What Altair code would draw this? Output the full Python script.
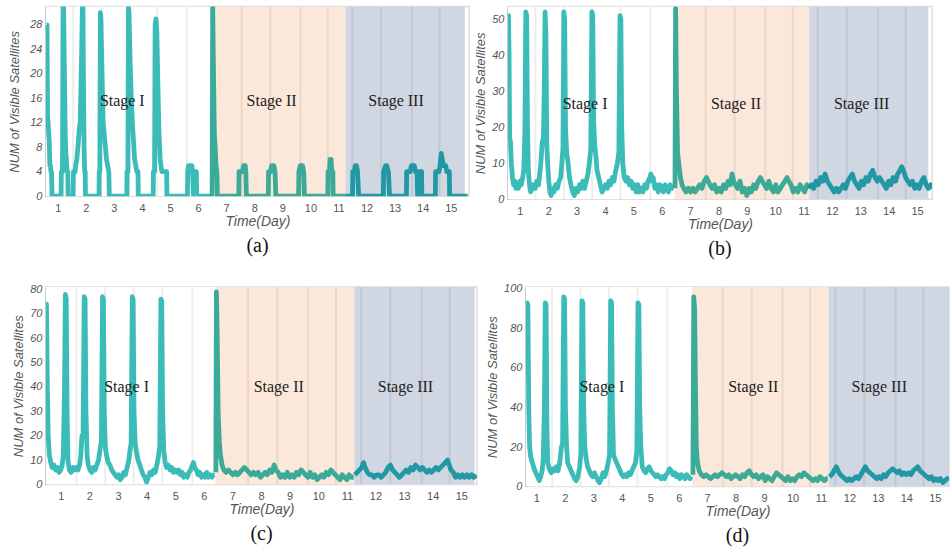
import altair as alt
import pandas as pd

# ---------------- data (day, number of visible satellites) ----------------
A_S1 = [(0.60, 28), (0.62, 28), (0.64, 13), (0.66, 12), (0.68, 10), (0.70, 9), (0.72, 5), (0.74, 5), (0.76, 4), (0.78, 4), (0.80, 0),
        (1.12, 0), (1.13, 4), (1.17, 4), (1.19, 31), (1.21, 31), (1.24, 20), (1.27, 10), (1.29, 7), (1.31, 6), (1.33, 4), (1.36, 4), (1.37, 0),
        (1.55, 0), (1.56, 4), (1.62, 4), (1.64, 5), (1.68, 6), (1.72, 8), (1.77, 11), (1.80, 12), (1.84, 20), (1.88, 31), (1.90, 31), (1.92, 18),
        (1.94, 8), (1.96, 4), (1.98, 4), (1.99, 0), (2.47, 0), (2.48, 4), (2.50, 4), (2.52, 30), (2.54, 29), (2.58, 20), (2.62, 12), (2.66, 10),
        (2.70, 8), (2.74, 6), (2.78, 5), (2.82, 4), (2.84, 0), (3.46, 0), (3.47, 4), (3.50, 4), (3.52, 31), (3.54, 30), (3.58, 22), (3.62, 16),
        (3.66, 12), (3.70, 9), (3.74, 6), (3.78, 5), (3.82, 4), (3.86, 4), (3.87, 0), (4.40, 0), (4.41, 4), (4.45, 4), (4.47, 28), (4.50, 29),
        (4.53, 27), (4.57, 18), (4.61, 10), (4.65, 6), (4.68, 5), (4.71, 4), (4.88, 4), (4.89, 0), (5.62, 0), (5.63, 4), (5.66, 5), (5.70, 4),
        (5.73, 5), (5.78, 5), (5.80, 4), (5.84, 0), (5.88, 4), (5.94, 4), (5.95, 0), (6.48, 0)]
A_S2 = [(6.50, 0), (6.52, 31), (6.55, 20), (6.58, 10), (6.61, 8), (6.64, 5), (6.67, 4), (6.69, 0), (7.45, 0), (7.46, 4), (7.58, 4),
        (7.62, 5), (7.68, 5), (7.70, 4), (7.72, 0), (8.50, 0), (8.51, 4), (8.58, 4), (8.62, 5), (8.70, 5), (8.74, 4), (8.77, 0), (9.58, 0),
        (9.59, 4), (9.64, 5), (9.72, 5), (9.76, 4), (9.79, 0), (10.62, 0), (10.63, 4), (10.68, 4), (10.70, 6), (10.74, 6), (10.76, 4),
        (10.80, 4), (10.81, 0), (11.25, 0)]
A_S3 = [(11.25, 0), (11.50, 0), (11.51, 4), (11.56, 4), (11.60, 5), (11.64, 5), (11.68, 4), (11.72, 0), (12.60, 0), (12.61, 4), (12.68, 5),
        (12.72, 5), (12.78, 4), (12.82, 0), (13.42, 0), (13.43, 4), (13.55, 4), (13.60, 5), (13.70, 5), (13.74, 4), (13.80, 4), (13.82, 0),
        (13.88, 0), (13.89, 4), (13.96, 4), (13.97, 0), (14.45, 0), (14.46, 4), (14.58, 4), (14.62, 5), (14.66, 7), (14.70, 6), (14.74, 5),
        (14.82, 5), (14.86, 4), (14.95, 4), (14.96, 0), (15.60, 0)]

B_S1 = [(0.58, 50), (0.60, 51), (0.62, 40), (0.64, 17), (0.67, 16), (0.70, 10), (0.74, 6), (0.78, 4), (0.82, 5), (0.86, 3), (0.90, 4),
        (0.95, 3), (1.00, 5), (1.05, 4), (1.10, 6), (1.14, 8), (1.18, 20), (1.21, 52), (1.24, 51), (1.27, 20), (1.30, 8), (1.34, 4), (1.38, 2),
        (1.42, 3), (1.48, 4), (1.54, 3), (1.60, 5), (1.66, 4), (1.70, 7), (1.74, 10), (1.79, 16), (1.83, 17), (1.86, 30), (1.89, 52), (1.92, 45),
        (1.95, 15), (1.98, 10), (2.02, 5), (2.06, 2), (2.10, 1), (2.15, 3), (2.20, 2), (2.26, 4), (2.32, 3), (2.38, 5), (2.44, 6), (2.48, 10),
        (2.52, 14), (2.55, 52), (2.58, 50), (2.61, 20), (2.65, 13), (2.70, 10), (2.75, 6), (2.80, 4), (2.86, 2), (2.92, 1), (2.98, 3), (3.04, 2),
        (3.10, 4), (3.16, 3), (3.22, 5), (3.28, 3), (3.34, 5), (3.40, 7), (3.45, 10), (3.50, 14), (3.54, 52), (3.57, 51), (3.60, 22), (3.64, 15),
        (3.68, 12), (3.72, 8), (3.78, 6), (3.84, 4), (3.90, 2), (3.96, 3), (4.02, 4), (4.08, 3), (4.14, 5), (4.20, 4), (4.26, 6), (4.32, 5),
        (4.38, 8), (4.44, 10), (4.49, 13), (4.53, 51), (4.56, 50), (4.59, 20), (4.63, 10), (4.68, 6), (4.74, 5), (4.80, 6), (4.86, 4), (4.92, 5),
        (4.98, 3), (5.04, 4), (5.10, 2), (5.16, 4), (5.22, 2), (5.28, 3), (5.34, 2), (5.40, 4), (5.46, 3), (5.52, 5), (5.58, 6), (5.62, 7),
        (5.66, 5), (5.70, 6), (5.76, 3), (5.82, 4), (5.88, 2), (5.94, 4), (6.00, 3), (6.06, 2), (6.12, 4), (6.18, 3), (6.24, 2), (6.30, 4),
        (6.36, 3), (6.42, 3)]
B_S2 = [(6.47, 3), (6.49, 53), (6.52, 30), (6.56, 13), (6.60, 10), (6.66, 6), (6.72, 4), (6.78, 3), (6.86, 2), (6.94, 3), (7.02, 2),
        (7.10, 3), (7.18, 2), (7.26, 3), (7.34, 4), (7.42, 3), (7.50, 5), (7.58, 6), (7.64, 5), (7.70, 4), (7.78, 3), (7.86, 4), (7.94, 2),
        (8.02, 3), (8.10, 2), (8.18, 4), (8.26, 3), (8.34, 5), (8.42, 4), (8.48, 7), (8.54, 5), (8.60, 4), (8.68, 3), (8.76, 5), (8.84, 2),
        (8.92, 3), (9.00, 1), (9.08, 3), (9.16, 2), (9.24, 4), (9.32, 3), (9.40, 5), (9.48, 6), (9.54, 5), (9.62, 4), (9.70, 3), (9.78, 5),
        (9.86, 3), (9.94, 2), (10.02, 4), (10.10, 2), (10.18, 3), (10.26, 4), (10.34, 5), (10.42, 6), (10.48, 5), (10.56, 4), (10.64, 2),
        (10.72, 3), (10.80, 2), (10.88, 4), (10.96, 3), (11.04, 2), (11.12, 4), (11.20, 3)]
B_S3 = [(11.20, 3), (11.28, 4), (11.36, 3), (11.44, 5), (11.52, 4), (11.60, 6), (11.68, 5), (11.76, 7), (11.84, 5), (11.92, 4), (12.00, 3),
        (12.08, 2), (12.16, 3), (12.24, 2), (12.32, 3), (12.40, 4), (12.48, 3), (12.56, 5), (12.64, 6), (12.72, 7), (12.80, 5), (12.88, 4),
        (12.96, 3), (13.04, 5), (13.12, 4), (13.20, 6), (13.28, 5), (13.36, 7), (13.44, 8), (13.52, 6), (13.60, 5), (13.68, 6), (13.76, 5),
        (13.84, 4), (13.92, 3), (14.00, 5), (14.08, 4), (14.16, 6), (14.24, 5), (14.32, 7), (14.40, 8), (14.46, 9), (14.52, 8), (14.60, 6),
        (14.68, 5), (14.76, 4), (14.84, 5), (14.92, 3), (15.00, 4), (15.08, 3), (15.16, 5), (15.24, 6), (15.32, 4), (15.40, 3), (15.48, 4),
        (15.55, 3)]

C_S1 = [(0.48, 74), (0.50, 74), (0.53, 40), (0.56, 20), (0.60, 12), (0.65, 9), (0.70, 7), (0.76, 8), (0.82, 6), (0.88, 7), (0.94, 5),
        (1.00, 6), (1.05, 8), (1.09, 12), (1.13, 40), (1.16, 78), (1.19, 76), (1.22, 30), (1.25, 10), (1.30, 6), (1.36, 5), (1.42, 7),
        (1.48, 6), (1.54, 7), (1.60, 6), (1.66, 8), (1.70, 12), (1.74, 20), (1.78, 20), (1.82, 77), (1.85, 76), (1.88, 30), (1.92, 12),
        (1.96, 8), (2.02, 6), (2.08, 5), (2.14, 7), (2.20, 6), (2.26, 8), (2.32, 10), (2.38, 15), (2.42, 18), (2.46, 77), (2.49, 76),
        (2.52, 30), (2.56, 15), (2.60, 12), (2.66, 9), (2.72, 8), (2.78, 6), (2.84, 5), (2.90, 4), (2.96, 3), (3.02, 4), (3.08, 2), (3.14, 3),
        (3.20, 5), (3.26, 4), (3.32, 7), (3.38, 10), (3.42, 14), (3.46, 17), (3.50, 77), (3.53, 76), (3.56, 30), (3.60, 17), (3.64, 14),
        (3.70, 10), (3.76, 8), (3.82, 6), (3.88, 4), (3.94, 3), (4.00, 1), (4.06, 3), (4.12, 5), (4.18, 4), (4.24, 6), (4.30, 5), (4.36, 8),
        (4.42, 12), (4.46, 16), (4.50, 76), (4.53, 75), (4.56, 30), (4.60, 14), (4.65, 9), (4.70, 7), (4.76, 8), (4.82, 6), (4.88, 7),
        (4.94, 5), (5.00, 6), (5.06, 5), (5.12, 6), (5.18, 4), (5.24, 5), (5.30, 3), (5.36, 4), (5.42, 3), (5.48, 5), (5.54, 6), (5.60, 8),
        (5.64, 9), (5.68, 7), (5.74, 6), (5.80, 4), (5.86, 5), (5.92, 3), (5.98, 4), (6.04, 3), (6.10, 5), (6.16, 3), (6.22, 4), (6.28, 3),
        (6.34, 4), (6.38, 4)]
C_S2 = [(6.42, 5), (6.44, 79), (6.47, 60), (6.50, 30), (6.54, 18), (6.58, 12), (6.64, 8), (6.70, 6), (6.78, 5), (6.86, 6), (6.94, 5),
        (7.02, 4), (7.10, 5), (7.18, 4), (7.26, 5), (7.34, 6), (7.42, 7), (7.50, 6), (7.58, 5), (7.66, 4), (7.74, 5), (7.82, 4), (7.90, 5),
        (7.98, 3), (8.06, 4), (8.14, 5), (8.22, 4), (8.30, 6), (8.38, 5), (8.46, 8), (8.52, 6), (8.60, 5), (8.68, 3), (8.76, 4), (8.84, 3),
        (8.92, 5), (9.00, 3), (9.08, 4), (9.16, 3), (9.24, 5), (9.32, 4), (9.40, 6), (9.48, 5), (9.56, 4), (9.64, 3), (9.72, 5), (9.80, 3),
        (9.88, 4), (9.96, 2), (10.04, 3), (10.12, 4), (10.20, 3), (10.28, 5), (10.36, 4), (10.44, 6), (10.52, 5), (10.60, 4), (10.68, 3),
        (10.76, 2), (10.84, 4), (10.92, 3), (11.00, 2), (11.08, 4), (11.16, 3), (11.24, 3)]
C_S3 = [(11.28, 4), (11.36, 5), (11.44, 6), (11.52, 7), (11.58, 9), (11.64, 7), (11.72, 5), (11.80, 4), (11.88, 4), (11.96, 3), (12.04, 4),
        (12.12, 4), (12.20, 3), (12.28, 4), (12.36, 5), (12.44, 7), (12.52, 8), (12.60, 6), (12.68, 5), (12.76, 4), (12.84, 3), (12.92, 4),
        (13.00, 5), (13.08, 6), (13.16, 5), (13.24, 7), (13.32, 6), (13.40, 8), (13.48, 7), (13.56, 6), (13.64, 7), (13.72, 6), (13.80, 5),
        (13.88, 6), (13.96, 5), (14.04, 6), (14.12, 7), (14.20, 6), (14.28, 7), (14.36, 8), (14.44, 9), (14.52, 10), (14.58, 8), (14.64, 6),
        (14.72, 5), (14.80, 3), (14.88, 4), (14.96, 3), (15.04, 4), (15.12, 3), (15.20, 4), (15.28, 3), (15.36, 4), (15.44, 3), (15.52, 4)]

D_S1 = [(0.65, 60), (0.67, 93), (0.70, 92), (0.73, 40), (0.76, 20), (0.80, 15), (0.86, 12), (0.92, 9), (0.98, 7), (1.04, 5), (1.10, 3),
        (1.15, 5), (1.20, 8), (1.24, 14), (1.28, 40), (1.31, 93), (1.34, 92), (1.37, 30), (1.40, 12), (1.45, 9), (1.52, 7), (1.58, 9),
        (1.64, 8), (1.70, 10), (1.76, 8), (1.82, 12), (1.88, 20), (1.92, 22), (1.96, 96), (1.99, 95), (2.02, 40), (2.06, 20), (2.10, 12),
        (2.16, 10), (2.22, 8), (2.28, 6), (2.34, 4), (2.40, 3), (2.46, 5), (2.52, 10), (2.56, 16), (2.60, 94), (2.63, 93), (2.66, 40),
        (2.70, 20), (2.75, 14), (2.80, 10), (2.86, 8), (2.92, 6), (2.98, 5), (3.04, 7), (3.10, 5), (3.16, 3), (3.22, 2), (3.28, 4), (3.34, 7),
        (3.40, 5), (3.46, 8), (3.52, 12), (3.57, 16), (3.61, 94), (3.64, 93), (3.67, 40), (3.71, 16), (3.76, 14), (3.82, 12), (3.88, 10),
        (3.94, 8), (4.00, 6), (4.06, 5), (4.12, 6), (4.18, 5), (4.24, 7), (4.30, 6), (4.36, 8), (4.42, 10), (4.48, 12), (4.53, 18), (4.57, 93),
        (4.60, 92), (4.63, 40), (4.67, 20), (4.72, 10), (4.78, 8), (4.84, 7), (4.90, 9), (4.96, 10), (5.02, 8), (5.08, 7), (5.14, 6),
        (5.20, 5), (5.26, 6), (5.32, 5), (5.38, 4), (5.44, 5), (5.50, 4), (5.56, 6), (5.62, 7), (5.68, 9), (5.74, 8), (5.80, 6), (5.86, 7),
        (5.92, 5), (5.98, 6), (6.04, 4), (6.10, 6), (6.16, 5), (6.22, 4), (6.28, 6), (6.34, 5), (6.40, 4), (6.44, 5)]
D_S2 = [(6.50, 6), (6.53, 96), (6.56, 90), (6.59, 50), (6.62, 20), (6.66, 12), (6.72, 8), (6.80, 6), (6.88, 5), (6.96, 6), (7.04, 5),
        (7.12, 4), (7.20, 5), (7.28, 6), (7.36, 5), (7.44, 6), (7.52, 7), (7.60, 6), (7.68, 5), (7.76, 6), (7.84, 4), (7.92, 5), (8.00, 6),
        (8.08, 5), (8.16, 4), (8.24, 6), (8.32, 5), (8.40, 7), (8.48, 8), (8.56, 6), (8.64, 5), (8.72, 6), (8.80, 4), (8.88, 5), (8.96, 6),
        (9.04, 3), (9.12, 5), (9.20, 4), (9.28, 3), (9.36, 5), (9.44, 7), (9.52, 6), (9.60, 5), (9.68, 4), (9.76, 3), (9.84, 5), (9.92, 3),
        (10.00, 4), (10.08, 3), (10.16, 5), (10.24, 6), (10.32, 5), (10.40, 7), (10.48, 6), (10.56, 5), (10.64, 4), (10.72, 3), (10.80, 4),
        (10.88, 3), (10.96, 5), (11.04, 4), (11.12, 3), (11.20, 4), (11.24, 4)]
D_S3 = [(11.30, 5), (11.38, 6), (11.46, 8), (11.54, 10), (11.60, 8), (11.68, 6), (11.76, 5), (11.84, 4), (11.92, 3), (12.00, 4),
        (12.08, 3), (12.16, 4), (12.24, 5), (12.32, 4), (12.40, 6), (12.48, 8), (12.56, 10), (12.64, 8), (12.72, 7), (12.80, 6), (12.88, 5),
        (12.96, 4), (13.04, 5), (13.12, 4), (13.20, 6), (13.28, 5), (13.36, 7), (13.44, 8), (13.52, 9), (13.60, 8), (13.68, 7), (13.76, 8),
        (13.84, 6), (13.92, 7), (14.00, 6), (14.08, 7), (14.16, 6), (14.24, 8), (14.32, 9), (14.40, 10), (14.48, 8), (14.56, 7), (14.64, 6),
        (14.72, 5), (14.80, 4), (14.88, 5), (14.96, 3), (15.04, 4), (15.12, 3), (15.20, 4), (15.28, 2), (15.36, 3), (15.44, 4), (15.49, 3)]

# stage boundaries (start of II, start of III, end of III) and x-domain per panel
A_BOUNDS = [6.50, 11.25, 15.50]
B_BOUNDS = [6.46, 11.20, 15.40]
C_BOUNDS = [6.40, 11.26, 15.47]
D_BOUNDS = [6.47, 11.27, 15.50]
A_XDOM = [0.58, 15.65]
B_XDOM = [0.58, 15.53]
C_XDOM = [0.48, 15.55]
D_XDOM = [0.63, 15.50]

A_YTICKS = [0, 4, 8, 12, 16, 20, 24, 28]
B_YTICKS = [0, 10, 20, 30, 40, 50]
C_YTICKS = [0, 10, 20, 30, 40, 50, 60, 70, 80]
D_YTICKS = [0, 20, 40, 60, 80, 100]
YMAX = {"a": 31, "b": 53.5, "c": 81, "d": 101}

X_TICKS = list(range(1, 16))
STAGE_NAMES = ["Stage I", "Stage II", "Stage III"]
STAGE_LABEL_DAY = [3.3, 8.62, 13.05]
STAGE_LABEL_VAL = {"a": 15.5, "b": 26.5, "c": 40, "d": 50.5}
GRID_DAYS = [1.55, 2.55, 3.55, 4.55, 5.6, 7.55, 8.57, 9.65, 10.62, 11.5, 12.52, 13.62, 14.6]

BG_COLORS = ["#ffffff", "#fce8da", "#d0d7e2"]
LINE_COLORS = ["#2bb6b3", "#2aa592", "#11939e"]

GRAY = "#555555"


def panel(key, series, bounds, xdom, yticks, caption, w, h, ytitle_pad):
    rows = []
    for name, s in zip(STAGE_NAMES, series):
        for d, v in s:
            rows.append({"day": d, "val": v, "seg": name})
    line_df = pd.DataFrame(rows)
    bg_df = pd.DataFrame({"x0": [xdom[0], bounds[0], bounds[1]],
                          "x1": [bounds[0], bounds[1], bounds[2]],
                          "stage": STAGE_NAMES})
    grid_df = pd.DataFrame({"g": GRID_DAYS})
    lab_df = pd.DataFrame({"day": STAGE_LABEL_DAY,
                           "val": [STAGE_LABEL_VAL[key]] * 3,
                           "t": STAGE_NAMES})

    xs = alt.Scale(domain=xdom, nice=False, zero=False)
    ys = alt.Scale(domain=[0, YMAX[key]], nice=False, zero=True)
    xaxis = alt.Axis(values=X_TICKS, ticks=False, grid=False, domain=False,
                     labelFont="Liberation Sans", labelFontSize=11, labelColor=GRAY,
                     labelPadding=6, labelFlush=False, labelOverlap=False, format="d",
                     title="Time(Day)", titleFont="Liberation Sans", titleFontSize=14,
                     titleFontStyle="italic", titleFontWeight="normal", titleColor=GRAY,
                     titlePadding=1)
    yaxis = alt.Axis(values=yticks, ticks=False, grid=False, domain=True,
                     domainColor="#bbbbbb", domainWidth=2,
                     labelFont="Liberation Sans", labelFontSize=11, labelColor=GRAY,
                     labelFontStyle="italic", labelPadding=4, labelOverlap=False,
                     labelFlush=False, format="d",
                     title="NUM of Visible Satellites", titleFont="Liberation Sans",
                     titleFontSize=13, titleFontStyle="italic", titleFontWeight="normal",
                     titleColor=GRAY, titlePadding=ytitle_pad)

    rect = alt.Chart(bg_df).mark_rect(clip=True).encode(
        x=alt.X("x0:Q", scale=xs, axis=xaxis), x2="x1:Q",
        y=alt.value(0), y2=alt.value(h),
        fill=alt.Fill("stage:N", scale=alt.Scale(domain=STAGE_NAMES, range=BG_COLORS), legend=None))
    grid = alt.Chart(grid_df).mark_rule(color="#000000", opacity=0.07, strokeWidth=2, clip=True).encode(
        x=alt.X("g:Q", axis=xaxis), y=alt.value(0), y2=alt.value(h))
    line = alt.Chart(line_df).mark_line(strokeWidth=4.8, clip=True, strokeJoin="round", opacity=0.92).encode(
        x=alt.X("day:Q", axis=xaxis),
        y=alt.Y("val:Q", scale=ys, axis=yaxis),
        color=alt.Color("seg:N", scale=alt.Scale(domain=STAGE_NAMES, range=LINE_COLORS), legend=None))
    text = alt.Chart(lab_df).mark_text(font="Liberation Serif", fontSize=16, color="#222222").encode(
        x=alt.X("day:Q", axis=xaxis), y=alt.Y("val:Q", axis=yaxis), text="t:N")

    return alt.layer(rect, grid, line, text).properties(
        width=w, height=h,
        title=alt.TitleParams(caption, orient="bottom", font="Liberation Serif", fontSize=20,
                              fontWeight="normal", color="#111111", offset=8, anchor="middle"))


pa = panel("a", [A_S1, A_S2, A_S3], A_BOUNDS, A_XDOM, A_YTICKS, "(a)", 424, 190, 8)
pb = panel("b", [B_S1, B_S2, B_S3], B_BOUNDS, B_XDOM, B_YTICKS, "(b)", 425, 193, 4)
pc = panel("c", [C_S1, C_S2, C_S3], C_BOUNDS, C_XDOM, C_YTICKS, "(c)", 432, 198, 4)
pd_ = panel("d", [D_S1, D_S2, D_S3], D_BOUNDS, D_XDOM, D_YTICKS, "(d)", 424, 200, 4)

row1 = alt.hconcat(pa, pb, spacing=4)
row2 = alt.hconcat(pc, pd_, spacing=7)
chart = alt.vconcat(row1, row2, spacing=22).properties(
    padding={"left": 8, "top": 5, "right": 0, "bottom": 0}
).configure_view(stroke="#dddddd", strokeWidth=1.5).configure_axis(labelOverlap=False)

chart.save("out.html", embed_options={"renderer": "svg", "actions": False})
